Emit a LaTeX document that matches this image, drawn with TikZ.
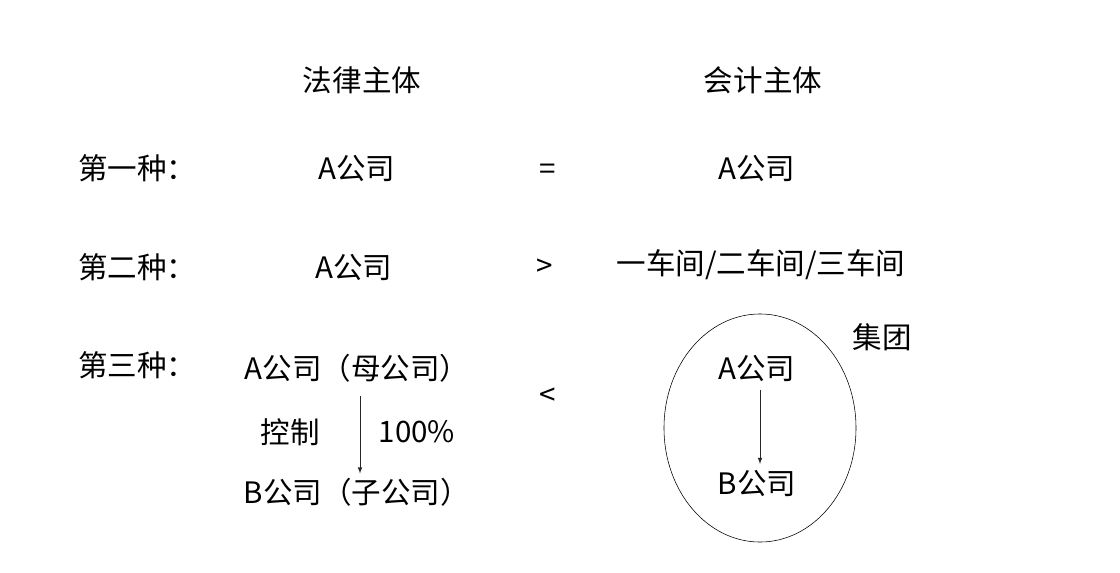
\documentclass[tikz,border=0pt]{standalone}
\usepackage{fontspec}
\newfontfamily\cjk{Noto Sans CJK SC}
\usepackage{tikz}
\usetikzlibrary{shapes,arrows,positioning}

\begin{document}
\begin{tikzpicture}[
    x=0.025cm, y=-0.025cm,
    label/.style={inner sep=0pt, font=\cjk\fontsize{21}{25}\selectfont},
    rowlabel/.style={label, anchor=west},
    arrow/.style={-latex, line width=0.5pt, black!85}
]
    \useasboundingbox (0,0) rectangle (1120,573);

    % headings
    \node[label] (legal) at (362,80) {法律主体};
    \node[label] (acct) at (763,80) {会计主体};

    % row 1
    \node[rowlabel] (type1) at (78,168) {第一种：};
    \node[label] (legal1) at (357,168) {A公司};
    \node[label] (rel1) at (548,172) {=};
    \node[label] (acct1) at (757,168) {A公司};

    % row 2
    \node[rowlabel] (type2) at (78,267) {第二种：};
    \node[label] (legal2) at (354,267) {A公司};
    \node[label] (rel2) at (545,268) {>};
    \node[label] (acct2) at (761,265) {一车间/二车间/三车间};

    % row 3
    \node[rowlabel] (type3) at (78,365) {第三种：};
    \node[label] (parent) at (357,368) {A公司（母公司）};
    \node[label] (sub) at (357,492) {B公司（子公司）};
    \node[label] (ctrl) at (290,432) {控制};
    \node[label] (share) at (417,432) {100\%};
    \coordinate (axis) at (360,0);
    \draw[arrow] ([yshift=-10pt]parent.south -| axis) -- ([yshift=3pt]sub.north -| axis);
    \node[label] (rel3) at (548,397) {<};

    \node[draw, ellipse, thin, minimum width=4.8cm, minimum height=5.7cm] (group) at (760,428) {};
    \node[label] (grp) at (882,337) {集团};
    \node[label] (ga) at (757,368) {A公司};
    \node[label] (gb) at (757,483) {B公司};
    \draw[arrow] ([yshift=-6pt]ga.south -| group.center) -- ([yshift=4pt]gb.north -| group.center);
\end{tikzpicture}
\end{document}
